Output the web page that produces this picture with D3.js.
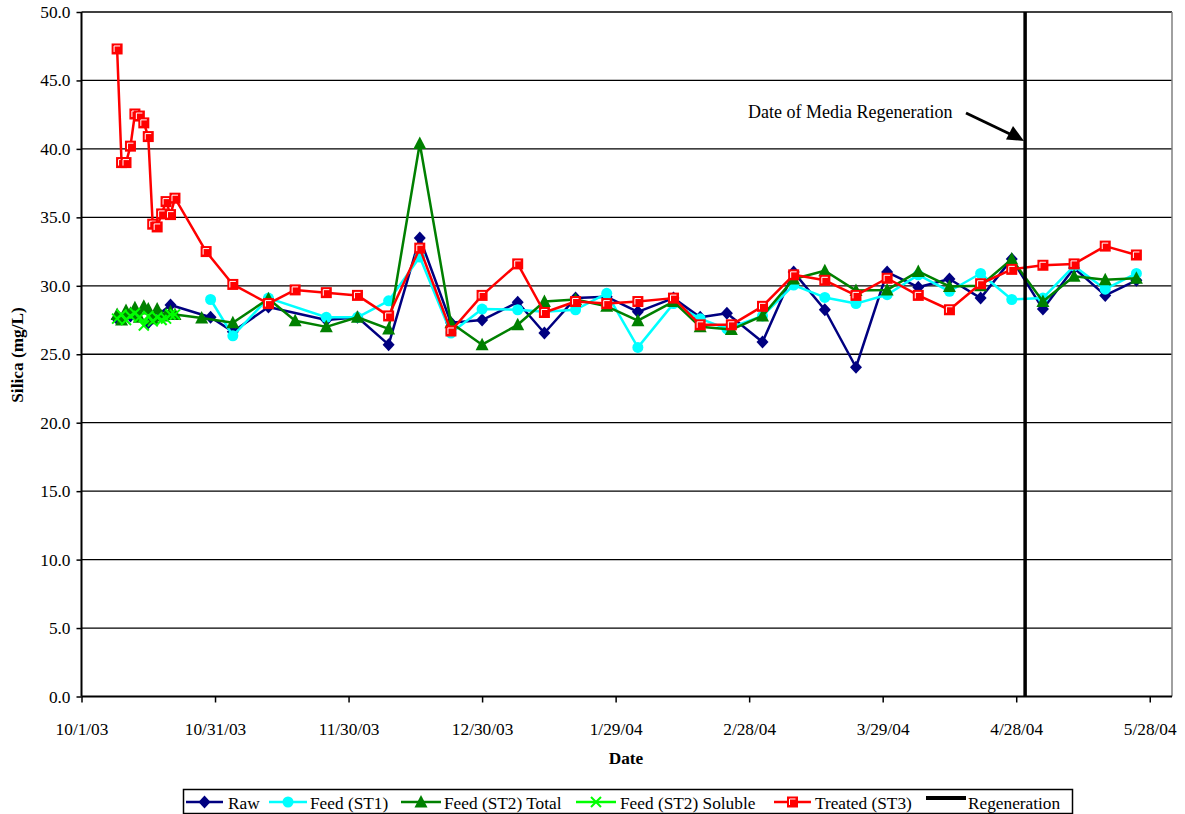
<!DOCTYPE html>
<html><head><meta charset="utf-8">
<script src="https://cdn.jsdelivr.net/npm/d3@7"></script>
<style>
body{margin:0;background:#fff}
text{font-family:"Liberation Serif","Times New Roman",serif;fill:#000}
</style>
</head><body><svg id="c" width="1185" height="814"></svg>
<script>
// ---------------- DATA ----------------
const rawDates = ["10/9/03","10/12/03","10/16/03","10/21/03","10/30/03","11/4/03","11/12/03","11/25/03","12/2/03","12/9/03","12/16/03","12/23/03","12/30/03","1/7/04","1/13/04","1/20/04","1/27/04","2/3/04","2/11/04","2/17/04","2/23/04","3/2/04","3/9/04","3/16/04","3/23/04","3/30/04","4/6/04","4/13/04","4/20/04","4/27/04","5/4/04","5/11/04","5/18/04","5/25/04"];
const rawValues = [27.6,27.8,27.3,28.6,27.7,26.65,28.45,27.5,27.7,25.7,33.5,27.3,27.5,28.8,26.55,29.1,29.2,28.1,29.1,27.7,28.0,25.9,31.0,28.25,24.05,31.0,29.9,30.5,29.1,31.95,28.3,31.3,29.3,30.4];

const st1Dates = ["10/30/03","11/4/03","11/12/03","11/25/03","12/2/03","12/9/03","12/16/03","12/23/03","12/30/03","1/7/04","1/13/04","1/20/04","1/27/04","2/3/04","2/11/04","2/17/04","2/23/04","3/2/04","3/9/04","3/16/04","3/23/04","3/30/04","4/6/04","4/13/04","4/20/04","4/27/04","5/4/04","5/11/04","5/18/04","5/25/04"];
const st1Values = [29.0,26.35,29.1,27.7,27.7,28.9,32.1,26.55,28.3,28.25,28.1,28.25,29.45,25.5,28.7,27.6,26.85,27.8,30.05,29.15,28.7,29.35,30.8,29.6,30.9,29.0,29.1,31.45,29.75,30.9];

const st2TotalDates = ["10/9/03","10/10/03","10/11/03","10/12/03","10/13/03","10/14/03","10/15/03","10/16/03","10/17/03","10/18/03","10/19/03","10/20/03","10/21/03","10/22/03","10/28/03","11/4/03","11/12/03","11/18/03","11/25/03","12/2/03","12/9/03","12/16/03","12/23/03","12/30/03","1/7/04","1/13/04","1/20/04","1/27/04","2/3/04","2/11/04","2/17/04","2/24/04","3/2/04","3/9/04","3/16/04","3/23/04","3/30/04","4/6/04","4/13/04","4/20/04","4/27/04","5/4/04","5/11/04","5/18/04","5/25/04"];
const st2TotalValues = [27.9,27.5,28.2,28.0,28.4,27.7,28.5,28.3,27.6,28.3,27.8,27.9,28.1,27.9,27.65,27.3,29.05,27.45,27.0,27.7,26.85,40.4,27.3,25.7,27.15,28.85,29.0,28.5,27.45,28.85,27.0,26.8,27.8,30.5,31.1,29.65,29.7,31.05,29.95,30.0,31.95,28.85,30.7,30.45,30.55];

const st2SolDates = ["10/9/03","10/10/03","10/11/03","10/12/03","10/13/03","10/14/03","10/15/03","10/16/03","10/17/03","10/18/03","10/19/03","10/20/03","10/21/03","10/22/03"];
const st2SolValues = [27.6,27.9,27.5,27.8,28.0,27.7,27.1,27.8,27.4,27.7,27.5,27.6,27.9,27.9];

const st3Dates = ["10/9/03","10/10/03","10/11/03","10/12/03","10/13/03","10/14/03","10/15/03","10/16/03","10/17/03","10/18/03","10/19/03","10/20/03","10/21/03","10/22/03","10/29/03","11/4/03","11/12/03","11/18/03","11/25/03","12/2/03","12/9/03","12/16/03","12/23/03","12/30/03","1/7/04","1/13/04","1/20/04","1/27/04","2/3/04","2/11/04","2/17/04","2/24/04","3/2/04","3/9/04","3/16/04","3/23/04","3/30/04","4/6/04","4/13/04","4/20/04","4/27/04","5/4/04","5/11/04","5/18/04","5/25/04"];
const st3Values = [47.3,39.0,39.0,40.2,42.55,42.4,41.9,40.9,34.5,34.3,35.25,36.15,35.2,36.4,32.5,30.1,28.7,29.7,29.5,29.3,27.8,32.75,26.7,29.3,31.6,28.05,28.85,28.7,28.85,29.1,27.15,27.15,28.5,30.8,30.4,29.3,30.55,29.3,28.25,30.15,31.2,31.5,31.6,32.9,32.25];

const regenerationDate = "4/30/04";
const xDomain = ["10/1/03","6/2/04"];
const xTickLabels = ["10/1/03","10/31/03","11/30/03","12/30/03","1/29/04","2/28/04","3/29/04","4/28/04","5/28/04"];
const yTicks = [0,5,10,15,20,25,30,35,40,45,50];
const seriesNames = ["Raw","Feed (ST1)","Feed (ST2) Total","Feed (ST2) Soluble","Treated (ST3)"];
const seriesColors = ["#000080","#00FFFF","#008000","#00FF00","#FF0000"];
const seriesShapes = ["diamond","circle","triangle","cross","square"];

// ---------------- CHART ----------------
const parse = d3.timeParse("%m/%d/%y");
const fmt = d3.timeFormat("%-m/%-d/%y");
const svg = d3.select("#c");
const L = 81.5, R = 1172, T = 12, B = 696.5;
const FS = "17.3px";

const x = d3.scaleTime().domain(xDomain.map(parse)).range([L, R]);
const y = d3.scaleLinear().domain([0, 50]).range([B, T]);

// gridlines
svg.append("g").selectAll("line").data(yTicks.filter(v => v > 0)).join("line")
  .attr("x1", L).attr("x2", R).attr("y1", d => y(d)).attr("y2", d => y(d))
  .attr("stroke", "#000").attr("stroke-width", 1.3);
// right border
svg.append("line").attr("x1", R).attr("x2", R).attr("y1", T).attr("y2", B)
  .attr("stroke", "#808080").attr("stroke-width", 1.5);

// axes
const yAxis = d3.axisLeft(y).tickValues(yTicks).tickFormat(d3.format(".1f")).tickSize(5).tickPadding(6);
const gy = svg.append("g").attr("transform", `translate(${L},0)`).call(yAxis);
gy.select(".domain").attr("stroke-width", 2).attr("d", `M0,${T}V${B}`);
gy.selectAll(".tick line").attr("stroke-width", 1.5);
gy.selectAll("text").style("font-size", FS).style("font-family", "Liberation Serif");

const xAxis = d3.axisBottom(x).tickValues(xTickLabels.map(parse)).tickFormat(fmt).tickSize(6).tickPadding(20);
const gx = svg.append("g").attr("transform", `translate(0,${B})`).call(xAxis);
gx.select(".domain").attr("stroke-width", 2).attr("d", `M${L},0H${R}`);
gx.selectAll(".tick line").attr("stroke-width", 1.5);
gx.selectAll("text").style("font-size", FS).style("font-family", "Liberation Serif");

// axis titles
svg.append("text").attr("x", 626).attr("y", 764).attr("text-anchor", "middle")
  .style("font-size", FS).style("font-weight", "bold").text("Date");
svg.append("text").attr("transform", "translate(23,355) rotate(-90)").attr("text-anchor", "middle")
  .style("font-size", FS).style("font-weight", "bold").text("Silica (mg/L)");

// markers
function drawMarker(g, shape, color) {
  if (shape === "diamond") {
    g.append("path").attr("d", "M0,-6.5L6,0L0,6.5L-6,0Z").attr("fill", color);
  } else if (shape === "circle") {
    g.append("circle").attr("r", 5.5).attr("fill", color);
  } else if (shape === "triangle") {
    g.append("path").attr("d", "M0,-7L6.5,5.5L-6.5,5.5Z").attr("fill", color);
  } else if (shape === "cross") {
    g.append("path").attr("d", "M-5,-5L5,5M-5,5L5,-5").attr("stroke", color).attr("stroke-width", 2).attr("fill", "none");
  } else if (shape === "square") {
    g.append("rect").attr("x", -5.5).attr("y", -5.5).attr("width", 11).attr("height", 11).attr("fill", color);
    g.append("path").attr("d", "M-3,3V-3H3").attr("stroke", "#fff").attr("stroke-width", 1).attr("fill", "none");
  }
}

const seriesDates = [rawDates, st1Dates, st2TotalDates, st2SolDates, st3Dates];
const seriesValues = [rawValues, st1Values, st2TotalValues, st2SolValues, st3Values];
const series = seriesNames.map((n, i) => ({
  name: n, color: seriesColors[i], shape: seriesShapes[i],
  pts: seriesDates[i].map((d, j) => ({ date: parse(d), v: seriesValues[i][j] }))
}));

const line = d3.line().x(d => x(d.date)).y(d => y(d.v));
series.forEach(s => {
  const g = svg.append("g");
  g.append("path").datum(s.pts).attr("d", line).attr("fill", "none")
    .attr("stroke", s.color).attr("stroke-width", 2.5).attr("stroke-linejoin", "round");
  g.selectAll("g.m").data(s.pts).join("g").attr("class", "m")
    .attr("transform", d => `translate(${x(d.date)},${y(d.v)})`)
    .each(function () { drawMarker(d3.select(this), s.shape, s.color); });
});

// regeneration line
const rx = x(parse(regenerationDate));
svg.append("line").attr("x1", rx).attr("x2", rx).attr("y1", y(0)).attr("y2", y(50))
  .attr("stroke", "#000").attr("stroke-width", 3.5);

// annotation
svg.append("text").attr("x", 748).attr("y", 118).style("font-size", "18px").text("Date of Media Regeneration");
svg.append("line").attr("x1", 966).attr("y1", 113).attr("x2", 1012).attr("y2", 135)
  .attr("stroke", "#000").attr("stroke-width", 3);
svg.append("path").attr("d", "M1024,141L1006,139.5L1013,126Z").attr("fill", "#000");

// legend
const lg = svg.append("g");
lg.append("rect").attr("x", 183.5).attr("y", 789.5).attr("width", 889).attr("height", 24)
  .attr("fill", "#fff").attr("stroke", "#000").attr("stroke-width", 1.5);
const legX = [[186, 223, 228], [269, 307, 310], [401, 441, 444], [576, 616, 620], [774, 811, 815]];
const ly = 802;
series.forEach((s, i) => {
  const [a, b, t] = legX[i];
  lg.append("line").attr("x1", a).attr("x2", b).attr("y1", ly).attr("y2", ly)
    .attr("stroke", s.color).attr("stroke-width", 2.5);
  const m = lg.append("g").attr("transform", `translate(${(a + b) / 2},${ly})`);
  drawMarker(m, s.shape, s.color);
  lg.append("text").attr("x", t).attr("y", ly + 7).style("font-size", FS).text(s.name);
});
lg.append("line").attr("x1", 926).attr("x2", 966).attr("y1", 798).attr("y2", 798)
  .attr("stroke", "#000").attr("stroke-width", 4);
lg.append("text").attr("x", 968).attr("y", ly + 7).style("font-size", FS).text("Regeneration");
</script></body></html>
